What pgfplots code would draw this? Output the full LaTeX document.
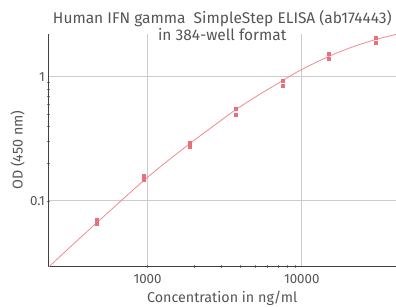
\documentclass[border=0pt]{standalone}
\usepackage{fontspec}
\setmainfont{Fira Sans}
\usepackage{pgfplots}
\pgfplotsset{compat=1.18}
\definecolor{txt}{HTML}{555555}
\definecolor{pt}{HTML}{E8707A}
\definecolor{ln}{HTML}{F08A90}
\definecolor{gridc}{HTML}{CCCCCC}
\begin{document}
\begin{tikzpicture}[x=1pt,y=1pt]
\begin{axis}[
  scale only axis,
  width=347.5pt, height=232.5pt,
  xmode=log, ymode=log,
  xmin=228, xmax=40830,
  ymin=0.0294, ymax=2.21,
  axis x line=bottom, axis y line=left,
  axis line style={draw=black!75, -, line width=0.8pt},
  xtick={1000,10000}, xticklabels={1000,10000},
  ytick={0.1,1}, yticklabels={0.1,1},
  minor tick num=0, minor xtick={}, minor ytick={},
  major tick length=0pt,
  xmajorgrids, ymajorgrids,
  major grid style={draw=gridc, line width=0.8pt},
  tick label style={font=\fontsize{13.3}{15}\selectfont, text=txt},
  xticklabel style={yshift=-4.5pt},
  /pgf/number format/assume math mode=true,
  xlabel={Concentration in ng/ml},
  ylabel={OD (450 nm)},
  label style={font=\fontsize{14.3}{16}\selectfont, text=txt},
  xlabel style={at={(axis description cs:0.5,-0.153)}, anchor=base},
  ylabel style={at={(axis description cs:-0.089,0.5)}, anchor=center},
  title={Human IFN gamma\ \ SimpleStep ELISA (ab174443)\\in 384-well format},
  title style={font=\fontsize{15.5}{17.5}\selectfont, text=txt, align=center, at={(axis description cs:0.5,1)}, anchor=south, yshift=-16.5pt},
  clip=true,
]
\addplot[ln, line width=0.8pt, smooth, tension=0.6, no marks] coordinates {
(224.4,0.0285) (316.2,0.0424) (446.7,0.0628) (657.7,0.0970) (957.2,0.1472)
(1412.5,0.2188) (2178,0.3311) (2818,0.4198) (3767,0.5458) (5248,0.7112)
(7413,0.9204) (9954,1.1402) (14962,1.4555) (20893,1.7219) (29785,1.9861) (40738,2.19)
};
\addplot[only marks, mark=square*, mark size=1.5pt, color=pt] coordinates {
(468.75,0.0708) (468.75,0.0657)
(937.5,0.158) (937.5,0.148)
(1875,0.296) (1875,0.270)
(3750,0.55) (3750,0.495)
(7500,0.93) (7500,0.85)
(15000,1.52) (15000,1.39)
(30000,2.08) (30000,1.89)
};
\end{axis}
\pgfresetboundingbox
\path (-48.5pt,-39.5pt) rectangle (347.5pt,266.5pt);
\end{tikzpicture}
\end{document}
